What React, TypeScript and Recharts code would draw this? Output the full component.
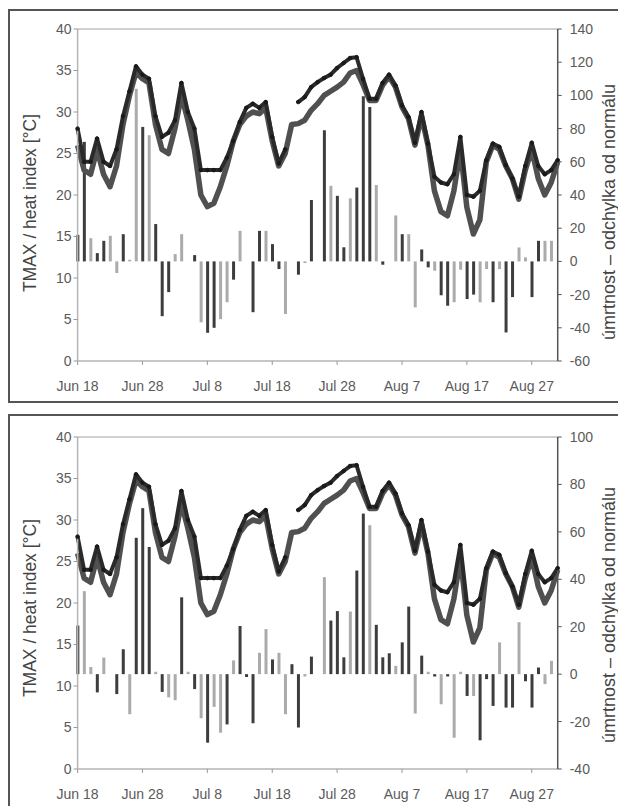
import React from 'react';
import { ComposedChart, Bar, Line, XAxis, YAxis, Cell, ReferenceLine } from 'recharts';

const FONT = '"Liberation Sans", Arial, sans-serif';

// x axis: days from Jun 18 (0) to Aug 31 (74)
const xTicks = [0, 10, 20, 30, 40, 50, 60, 70];
const xTickLabels = ['Jun 18', 'Jun 28', 'Jul 8', 'Jul 18', 'Jul 28', 'Aug 7', 'Aug 17', 'Aug 27'];
const tempTicks = [0, 5, 10, 15, 20, 25, 30, 35, 40];
const topMortTicks = [-60, -40, -20, 0, 20, 40, 60, 80, 100, 120, 140];
const bottomMortTicks = [-40, -20, 0, 20, 40, 60, 80, 100];

const tmax = [
  26.0, 23.0, 22.5, 25.5, 22.5, 21.0, 23.5, 28.5, 32.0, 34.8,
  34.0, 33.5, 28.5, 25.5, 25.0, 28.0, 32.0, 29.0, 25.5, 20.0,
  18.6, 19.0, 21.0, 23.5, 26.5, 28.5, 29.5, 30.0, 29.8, 30.5,
  26.5, 23.5, 25.0, 28.5, 28.6, 29.0, 30.2, 31.0, 32.0, 32.5,
  33.0, 33.6, 34.7, 35.0, 33.3, 31.4, 31.4, 33.2, 34.3, 33.0,
  30.6, 29.2, 26.0, 29.5, 26.0, 20.5, 18.0, 17.5, 20.5, 25.5,
  18.5, 15.3, 17.0, 24.0, 26.0, 25.5, 23.5, 22.0, 19.5, 23.0,
  25.5, 22.0, 20.0, 21.5, 24.0,
];

const heatIndex = [
  28.0, 24.0, 24.0, 26.8, 24.0, 23.5, 25.5, 29.5, 32.5, 35.5,
  34.5, 34.0, 29.5, 27.0, 27.5, 29.0, 33.5, 30.0, 28.0, 23.0,
  23.0, 23.0, 23.0, 24.5, 26.5, 28.8, 30.5, 31.0, 30.5, 31.2,
  27.0, 23.8, 25.5, null, 31.2, 31.8, 33.0, 33.6, 34.1, 34.5,
  35.3, 35.9, 36.5, 36.6, 34.0, 31.6, 31.6, 33.5, 34.5, 33.2,
  30.8, 29.4, 26.3, 30.0, 26.2, 22.2, 21.5, 21.3, 22.5, 27.0,
  20.0, 19.8, 20.5, 24.2, 26.2, 25.8, 23.6, 22.0, 19.8, 23.5,
  26.3, 23.5, 22.5, 23.0, 24.2,
];

const topMortality = [
  16, 72, 14, 5, 12.4, 15.4, -7, 16.4, 1, 104,
  81, 76, 22.5, -33, -18.5, 4.4, 16.4, 0, 3.8, -36.7,
  -43, -40, -34.8, -24.6, -11, 18.4, 0, -30.6, 18.4, 18.4,
  10.4, -4.6, -31.7, 0, -8, -1, 37, 0, 79, 45.5,
  39.5, 8.5, 38, 44.5, 99.5, 93, 46, -2, 0, 27.7,
  16.4, 16.4, -27.7, 7.2, -3.6, -5.6, -20.4, -26.7, -24.6, -5,
  -22.7, -20, -24.6, -4.6, -24.6, -4.6, -42.8, -21.5, 8.4, 2.4,
  -21.5, 12.4, 12.4, 12.4, 0,
];
const topDarkGroup = [
  1, 1, 0, 1, 1, 0, 0, 1, 0, 0,
  1, 0, 1, 1, 1, 0, 0, 0, 1, 0,
  1, 1, 0, 0, 1, 0, 0, 1, 1, 0,
  1, 1, 0, 0, 1, 0, 1, 0, 1, 0,
  1, 1, 0, 1, 1, 1, 0, 1, 0, 0,
  1, 0, 0, 1, 1, 0, 1, 1, 0, 0,
  1, 1, 0, 0, 1, 0, 1, 1, 0, 0,
  1, 1, 0, 0, 0,
];

const bottomMortality = [
  20.5, 35, 3, -7.7, 7, 0, -8.4, 10.5, -16.9, 57.5,
  70, 53.6, 1, -7.5, -9.8, -11, 32.4, 1, -6.3, -18.6,
  -28.9, -13.8, -24.7, -21.2, 5.8, 20.3, -1.2, -20.7, 9, 19,
  6.2, 9, -16.9, 4.2, -22.5, -1, 7.4, 0, 40.9, 22.6,
  26.6, 7.1, 26.4, 43.7, 67.7, 62.8, 20.8, 7.1, 8.8, 3.5,
  13.4, 28.5, -16.6, 7.8, 1, -1, -12.7, -1, -26.8, 1,
  -9.2, -9.2, -27.9, -2.1, -13.4, 13.4, -14.1, -14.1, 21.9, -3,
  -14.1, 2.8, -4.2, 5.6, 0,
];
const bottomDarkGroup = [
  1, 0, 0, 1, 0, 0, 1, 1, 0, 1,
  1, 1, 0, 1, 0, 0, 1, 0, 1, 0,
  1, 0, 0, 1, 0, 1, 1, 1, 0, 0,
  1, 0, 0, 1, 1, 0, 1, 0, 0, 1,
  1, 1, 0, 1, 1, 0, 1, 1, 1, 0,
  1, 1, 0, 1, 0, 1, 0, 1, 0, 0,
  1, 0, 1, 1, 1, 0, 1, 1, 0, 1,
  1, 1, 0, 0, 0,
];

const days = tmax.map((_, i) => i);

const tempLabel = 'TMAX / heat index [°C]';
const mortLabel = 'úmrtnost – odchylka od normálu';

type PanelProps = {
  top: number;
  mortality: number[];
  darkGroup: number[];
  mortDomain: [number, number];
  mortTicks: number[];
};

function Panel({ top, mortality, darkGroup, mortDomain, mortTicks }: PanelProps) {
  const data = days.map((d) => ({
    day: d,
    tmax: tmax[d],
    hi: heatIndex[d],
    mort: mortality[d],
  }));
  const tickStyle = { fill: '#5a5a5a', fontSize: 14, fontFamily: FONT };
  return (
    <div style={{ position: 'absolute', left: 0, top, width: 618, height: 400 }}>
      <ComposedChart
        width={618}
        height={400}
        data={data}
        margin={{ top: 29, right: 0.3, bottom: 9, left: 17.6 }}
      >
        <XAxis
          dataKey="day"
          type="number"
          domain={[0, 74]}
          ticks={xTicks}
          interval={0}
          tickFormatter={(v: number) => xTickLabels[xTicks.indexOf(v)]}
          axisLine={{ stroke: '#b5b5b5', strokeWidth: 1.5 }}
          tickLine={{ stroke: '#999' }}
          tickSize={4}
          tickMargin={16}
          height={30}
          tick={tickStyle}
        />
        <YAxis
          yAxisId="t"
          domain={[0, 40]}
          ticks={tempTicks}
          interval={0}
          width={60}
          axisLine={{ stroke: '#b5b5b5', strokeWidth: 1.5 }}
          tickLine={{ stroke: '#999' }}
          tickSize={4}
          tickMargin={2}
          tick={tickStyle}
        />
        <YAxis
          yAxisId="m"
          orientation="right"
          domain={mortDomain}
          ticks={mortTicks}
          interval={0}
          width={60}
          axisLine={{ stroke: '#555', strokeWidth: 1.5 }}
          tickLine={{ stroke: '#555' }}
          tickSize={4}
          tickMargin={8}
          tick={tickStyle}
        />
        <ReferenceLine yAxisId="t" y={40} stroke="#c0c0c0" strokeWidth={1.5} />
        <Bar yAxisId="m" dataKey="mort" barSize={3} isAnimationActive={false}>
          {data.map((d) => (
            <Cell key={d.day} fill={darkGroup[d.day] ? '#3d3d3d' : '#ababab'} />
          ))}
        </Bar>
        <Line
          yAxisId="t"
          type="linear"
          dataKey="tmax"
          stroke="#505050"
          strokeWidth={5.5}
          strokeLinejoin="round"
          dot={false}
          isAnimationActive={false}
        />
        <Line
          yAxisId="t"
          type="linear"
          dataKey="hi"
          stroke="#2a2a2a"
          strokeWidth={4}
          strokeLinejoin="round"
          dot={{ r: 1.8, fill: '#1a1a1a', stroke: '#1a1a1a', strokeWidth: 1 }}
          connectNulls={false}
          isAnimationActive={false}
        />
      </ComposedChart>
    </div>
  );
}

function RotLabel({ x, y, text, size }: { x: number; y: number; text: string; size: number }) {
  return (
    <div
      style={{
        position: 'absolute',
        left: x,
        top: y,
        transform: 'translate(-50%, -50%) rotate(-90deg)',
        whiteSpace: 'nowrap',
        fontFamily: FONT,
        fontSize: size,
        color: '#444',
        lineHeight: '20px',
      }}
    >
      {text}
    </div>
  );
}

export default function App() {
  return (
    <div
      style={{
        position: 'fixed',
        left: 0,
        top: 0,
        width: 618,
        height: 806,
        overflow: 'hidden',
        background: '#fff',
      }}
    >
      <div
        style={{
          position: 'absolute',
          left: 8,
          top: 9,
          width: 640,
          height: 390,
          border: '2px solid #555',
        }}
      />
      <div
        style={{
          position: 'absolute',
          left: 8,
          top: 414,
          width: 640,
          height: 420,
          border: '2px solid #555',
        }}
      />
      <Panel top={0} mortality={topMortality} darkGroup={topDarkGroup} mortDomain={[-60, 140]} mortTicks={topMortTicks} />
      <Panel top={408} mortality={bottomMortality} darkGroup={bottomDarkGroup} mortDomain={[-40, 100]} mortTicks={bottomMortTicks} />
      <RotLabel x={30} y={203} text={tempLabel} size={17.5} />
      <RotLabel x={609} y={212} text={mortLabel} size={18} />
      <RotLabel x={30} y={608} text={tempLabel} size={17.5} />
      <RotLabel x={609} y={615} text={mortLabel} size={18} />
    </div>
  );
}
